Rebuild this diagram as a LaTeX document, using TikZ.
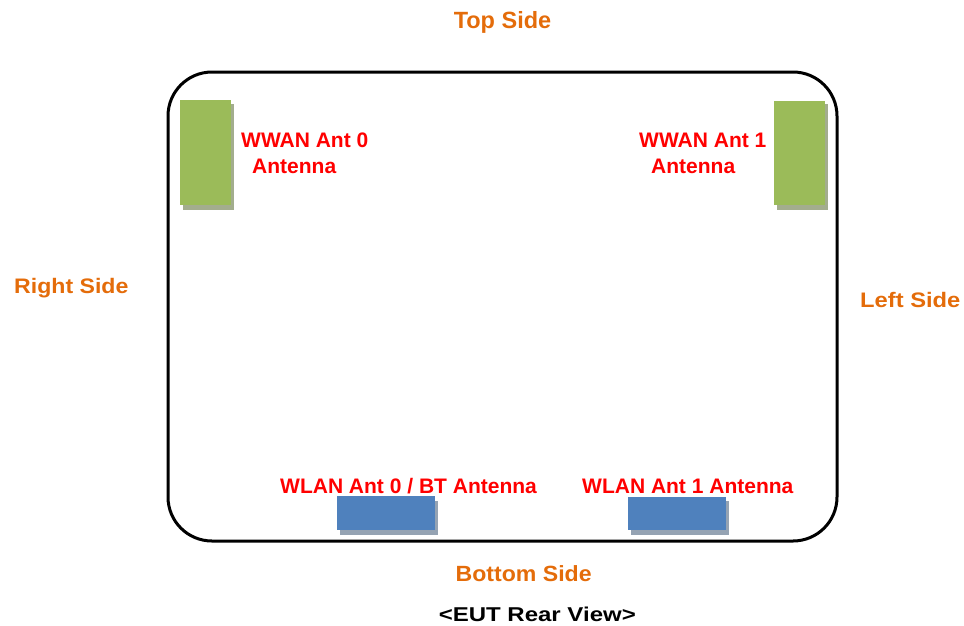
\documentclass[tikz,border=0pt]{standalone}
\usepackage{fontspec}
\setmainfont{Liberation Sans}
\definecolor{sideorange}{HTML}{E46C0A}
\definecolor{antred}{HTML}{FF0000}
\definecolor{antgreen}{HTML}{9BBB59}
\definecolor{antblue}{HTML}{4F81BD}
\definecolor{greenshadow}{HTML}{A3AD8E}
\definecolor{blueshadow}{HTML}{95A3B3}
\begin{document}
\begin{tikzpicture}[x=1pt,y=-1pt,
  sidelabel/.style={font=\bfseries\fontsize{21}{25}\selectfont, text=sideorange, inner sep=0pt, anchor=base},
  antlabel/.style={font=\bfseries\fontsize{21}{25}\selectfont, text=antred, inner sep=0pt, anchor=base west},
  viewlabel/.style={font=\bfseries\fontsize{20}{24}\selectfont, text=black, inner sep=0pt, anchor=base},
  ant/.style={rectangle, inner sep=0pt, outer sep=0pt, anchor=north west},
]
\useasboundingbox (0,0) rectangle (964,625);
% housing
\draw[line width=3pt, rounded corners=44pt] (168,72) rectangle (837,541);
% WWAN Ant 0
\node[ant, fill=greenshadow, minimum width=51pt, minimum height=106pt] (w0s) at (183,104) {};
\node[ant, fill=antgreen, minimum width=51pt, minimum height=105pt] (w0) at (180,100) {};
% WWAN Ant 1
\node[ant, fill=greenshadow, minimum width=51pt, minimum height=106pt] (w1s) at (777,104) {};
\node[ant, fill=antgreen, minimum width=51pt, minimum height=104pt] (w1) at (774,101) {};
% WLAN Ant 0
\node[ant, fill=blueshadow, minimum width=98pt, minimum height=34pt] (l0s) at (340,501) {};
\node[ant, fill=antblue, minimum width=98pt, minimum height=34pt] (l0) at (337,496) {};
% WLAN Ant 1
\node[ant, fill=blueshadow, minimum width=98pt, minimum height=34pt] (l1s) at (631,501) {};
\node[ant, fill=antblue, minimum width=98pt, minimum height=33pt] (l1) at (628,497) {};
% antenna labels
\node[antlabel] (t0a) at (241,147.5) {WWAN Ant 0};
\node[antlabel] (t0b) at (252,173.5) {Antenna};
\node[antlabel] (t1a) at (639,147.5) {WWAN Ant 1};
\node[antlabel] (t1b) at (651,173.5) {Antenna};
\node[antlabel] (t2) at (280,493.5) {WLAN Ant 0 / BT Antenna};
\node[antlabel] (t3) at (582,493.5) {WLAN Ant 1 Antenna};
% side labels
\node[sidelabel, font=\bfseries\fontsize{23.5}{28}\selectfont] (top) at (502.5,28) {Top Side};
\node[sidelabel, anchor=base west] (right) at (14,293.5) {\scalebox{1.1}[1]{Right Side}};
\node[sidelabel, anchor=base west] (left) at (860,307.5) {\scalebox{1.13}[1]{Left Side}};
\node[sidelabel, font=\bfseries\fontsize{22}{26}\selectfont] (bottom) at (523.7,581.7) {\scalebox{1.05}[1]{Bottom Side}};
\node[viewlabel] (view) at (537.3,621.7) {\scalebox{1.2}[1]{<EUT Rear View>}};
\end{tikzpicture}
\end{document}
